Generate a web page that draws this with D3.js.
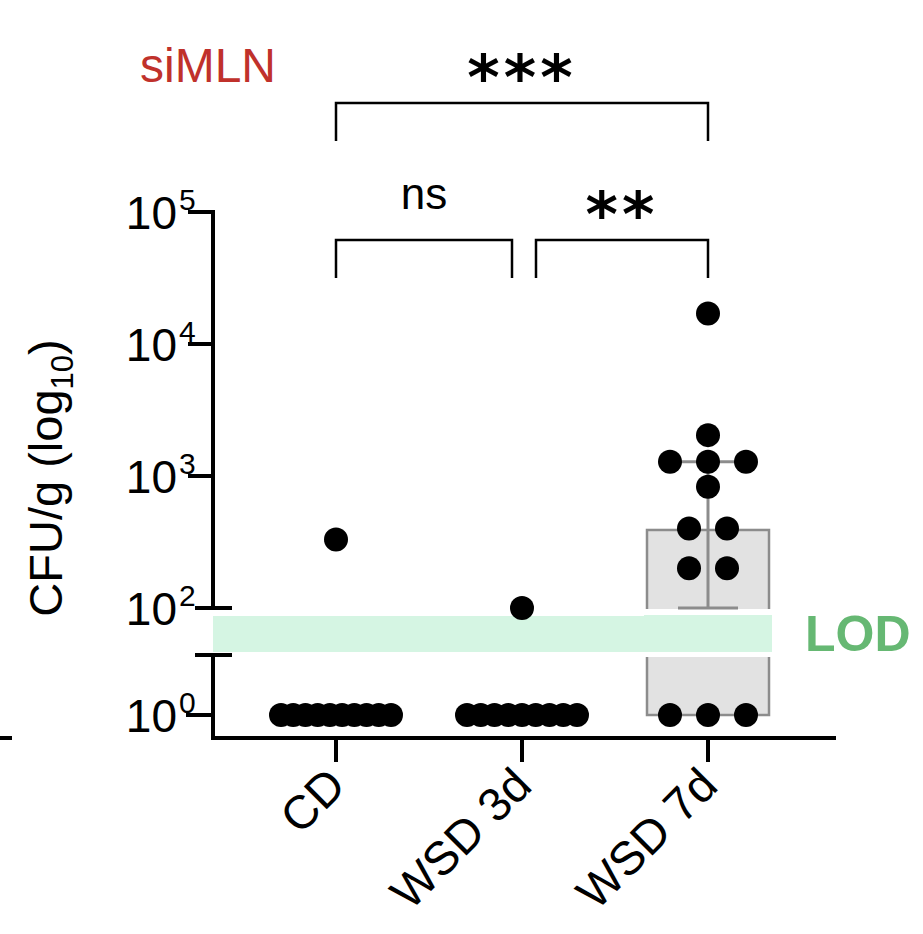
<!DOCTYPE html>
<html><head><meta charset="utf-8">
<script src="https://cdn.jsdelivr.net/npm/d3@7"></script>
<style>body{margin:0;background:#fff}</style></head>
<body><svg id="c" width="923" height="934"></svg>
<script>
const categories = ["CD", "WSD 3d", "WSD 7d"];
const cdValues = [330, 1,1,1,1,1,1,1,1,1,1];
const wsd3Values = [100, 1,1,1,1,1,1,1,1,1];
const wsd7Values = [17000, 2040, 1280,1280,1280, 830, 400,400, 200,200, 1,1,1];
const seriesValues = [cdValues, wsd3Values, wsd7Values];
const barMean = 390, errHigh = 1280, errLow = 100;
const upperTicks = [2,3,4,5];
const lodRange = [40, 90];
const brackets = [{a:0,b:2,label:"***",level:0},{a:0,b:1,label:"ns",level:1},{a:1,b:2,label:"**",level:1}];

const svg = d3.select("#c");
const F = "Liberation Sans, Arial, sans-serif";
const x = d3.scalePoint().domain(categories).range([336, 708]);
const yUp = d3.scaleLog().domain([100, 1e5]).range([608, 212]);
const yLo = d3.scaleLinear().domain([0, 1]).range([715, 655]);
const y = v => v >= 100 ? yUp(v) : (v <= 1 ? yLo(0) : yLo(Math.log10(v)));

// LOD band
svg.append("rect").attr("x",213).attr("width",557).attr("y",616).attr("height",36).attr("fill","#d5f5e3");
svg.append("text").attr("x",805).attr("y",651).attr("font-family",F).attr("font-weight","bold").attr("font-size",50).attr("fill","#66b873").text("LOD");

// bar
const bw = 122, xc = x("WSD 7d");
svg.append("rect").attr("x",xc-bw/2).attr("width",bw).attr("y",y(barMean)).attr("height",y(1)-y(barMean))
  .attr("fill","#e2e2e2").attr("stroke","#8c8c8c").attr("stroke-width",2.5);
svg.append("rect").attr("x",xc-bw/2-3).attr("width",bw+6).attr("y",614).attr("height",40).attr("fill","#d5f5e3");
svg.append("rect").attr("x",xc-bw/2-3).attr("width",bw+6).attr("y",609).attr("height",6).attr("fill","#fff");
svg.append("rect").attr("x",xc-bw/2-3).attr("width",bw+6).attr("y",652).attr("height",5).attr("fill","#fff");
const eg = svg.append("g").attr("stroke","#8c8c8c").attr("stroke-width",3);
eg.append("line").attr("x1",xc).attr("x2",xc).attr("y1",y(errHigh)).attr("y2",y(errLow));
eg.append("line").attr("x1",xc-38).attr("x2",xc+38).attr("y1",y(errHigh)).attr("y2",y(errHigh));
eg.append("line").attr("x1",xc-30).attr("x2",xc+30).attr("y1",y(errLow)).attr("y2",y(errLow));

// points
seriesValues.forEach((vals,i)=>{
  const groups = d3.group(vals, v=>v);
  groups.forEach((arr,v)=>{
    const n = arr.length, sp = n>1 ? Math.min(38, 110/(n-1)) : 0;
    arr.forEach((_,k)=>{
      svg.append("circle").attr("cx",x(categories[i]) + (k-(n-1)/2)*sp).attr("cy",y(v)).attr("r",12).attr("fill","#000");
    });
  });
});

// axes
const ax = svg.append("g").attr("stroke","#000").attr("stroke-width",4).attr("stroke-linecap","butt");
ax.append("line").attr("x1",213).attr("x2",213).attr("y1",210).attr("y2",610);
ax.append("line").attr("x1",213).attr("x2",213).attr("y1",653).attr("y2",740);
ax.append("line").attr("x1",211).attr("x2",836).attr("y1",738).attr("y2",738);
upperTicks.forEach(t=>{
  const yy = yUp(Math.pow(10,t));
  ax.append("line").attr("x1", t===2?195:188).attr("x2", t===2?232:213).attr("y1",yy).attr("y2",yy);
});
ax.append("line").attr("x1",195).attr("x2",232).attr("y1",yLo(1)).attr("y2",yLo(1));
ax.append("line").attr("x1",186).attr("x2",213).attr("y1",yLo(0)).attr("y2",yLo(0));
categories.forEach(c=>ax.append("line").attr("x1",x(c)).attr("x2",x(c)).attr("y1",738).attr("y2",762));
ax.append("line").attr("x1",0).attr("x2",12).attr("y1",738).attr("y2",738);

// tick labels
const tl = [...upperTicks.map(t=>({e:t,y:yUp(Math.pow(10,t))})), {e:0,y:yLo(0)}];
tl.forEach(d=>{
  svg.append("text").attr("x",177).attr("y",d.y+17).attr("text-anchor","end").attr("font-family",F).attr("font-size",46).text("10");
  svg.append("text").attr("x",179).attr("y",d.y-2).attr("font-family",F).attr("font-size",30).text(d.e);
});

// x labels
categories.forEach(c=>{
  svg.append("text").attr("transform",`translate(${x(c)+12},${788}) rotate(-45)`).attr("text-anchor","end")
    .attr("font-family",F).attr("font-size",47).text(c);
});

// y label
const yl = svg.append("text").attr("transform","translate(62,478) rotate(-90)").attr("text-anchor","middle").attr("font-family",F).attr("font-size",47);
yl.append("tspan").text("CFU/g (log");
yl.append("tspan").attr("font-size",31).attr("dy",11).text("10");
yl.append("tspan").attr("dy",-11).text(")");

// title
svg.append("text").attr("x",140).attr("y",82).attr("font-family",F).attr("font-size",48).attr("fill","#c0312b").text("siMLN");

// brackets
const bg = svg.append("g").attr("stroke","#000").attr("stroke-width",2.5).attr("fill","none");
brackets.forEach(b=>{
  const top = b.level===0 ? 103 : 240, bot = top+38;
  const x1 = x(categories[b.a]) + (b.level===1 && b.a===1 ? 14 : 0);
  const x2 = x(categories[b.b]) - (b.level===1 && b.b===1 ? 10 : 0);
  bg.append("path").attr("d",`M${x1},${bot}V${top}H${x2}V${bot}`);
  const isStar = b.label.includes("*");
  svg.append("text").attr("x",(x1+x2)/2).attr("y", isStar ? top-16 : top-31).attr("text-anchor","middle")
    .attr("font-family",isStar?"DejaVu Sans":F).attr("font-weight",isStar?"bold":"normal").attr("font-size",isStar?62:44)
    .attr("dy", isStar?12:0).attr("letter-spacing", isStar?4:0).text(b.label);
});
</script></body></html>
